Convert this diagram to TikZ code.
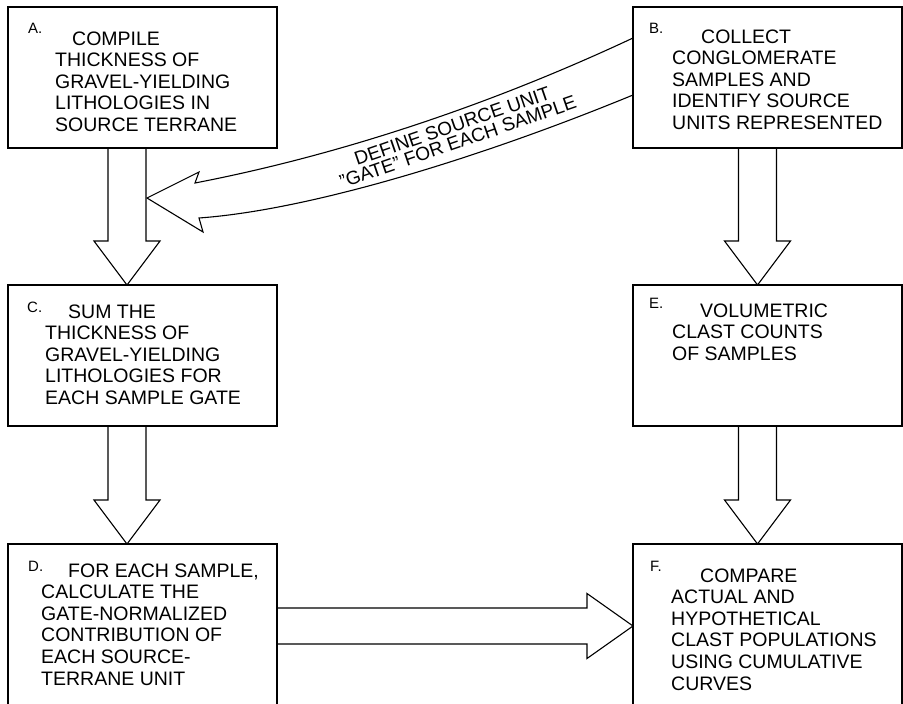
\documentclass[tikz,border=0pt]{standalone}
\usepackage{fontspec}
\setmainfont{Liberation Sans}
\usetikzlibrary{calc}

\tikzset{
  box/.style={draw,line width=1.1pt,minimum width=269pt,inner sep=0pt,outer sep=0pt},
  % base of a multi-line text is its last line
  txt/.style={anchor=base west,align=left,inner sep=0pt,font=\fontsize{19.5}{21.6}\selectfont},
  lbl/.style={anchor=base west,inner sep=0pt,font=\fontsize{15}{18}\selectfont},
  blk/.style={draw,line width=1.1pt,line join=miter},
  bandtxt/.style={align=center,rotate=19,inner sep=0pt,font=\fontsize{19}{17}\selectfont}
}

% hollow block arrow from #1 down to #2, #3 in from the left side of #1
\newcommand{\vblk}[3]{%
  \path ([xshift=#3]#1.south west) coordinate (t) (t |- #2.north) coordinate (h);
  \draw[blk] ([xshift=-19pt]t) -- ([shift={(-19pt,44pt)}]h) -- ([shift={(-33pt,44pt)}]h) -- (h)
    -- ([shift={(33pt,44pt)}]h) -- ([shift={(19pt,44pt)}]h) -- ([xshift=19pt]t);
}

\begin{document}
\begin{tikzpicture}[x=1pt,y=1pt]
\clip (0,0) rectangle (903,-704);

% boxes
\node[box,minimum height=141pt] (bA) at (142.5,-77.5) {};
\node[box,minimum height=141pt] (bB) at (767.5,-77.5) {};
\node[box,minimum height=141pt] (bC) at (142.5,-355.5) {};
\node[box,minimum height=141pt] (bE) at (767.5,-355.5) {};
\node[box,minimum height=164pt] (bD) at (142.5,-626) {};
\node[box,minimum height=164pt] (bF) at (767.5,-626) {};

% box texts
\node[lbl] (lA) at ([shift={(20pt,-26pt)}]bA.north west) {A.};
\node[txt] (tA) at ([shift={(47pt,-124.4pt)}]bA.north west) {\hspace*{17pt}COMPILE\\THICKNESS OF\\GRAVEL-YIELDING\\LITHOLOGIES IN\\SOURCE TERRANE};

\node[lbl] (lB) at ([shift={(16pt,-26pt)}]bB.north west) {B.};
\node[txt] (tB) at ([shift={(39pt,-122.4pt)}]bB.north west) {\hspace*{29pt}COLLECT\\CONGLOMERATE\\SAMPLES AND\\IDENTIFY SOURCE\\UNITS REPRESENTED};

\node[lbl] (lC) at ([shift={(19pt,-27pt)}]bC.north west) {C.};
\node[txt] (tC) at ([shift={(37pt,-119.4pt)}]bC.north west) {\hspace*{23pt}SUM THE\\THICKNESS OF\\GRAVEL-YIELDING\\LITHOLOGIES FOR\\EACH SAMPLE GATE};

\node[lbl] (lE) at ([shift={(16pt,-23pt)}]bE.north west) {E.};
\node[txt] (tE) at ([shift={(39pt,-75.2pt)}]bE.north west) {\hspace*{28pt}VOLUMETRIC\\CLAST COUNTS\\OF SAMPLES};

\node[lbl] (lD) at ([shift={(20pt,-27pt)}]bD.north west) {D.};
\node[txt] (tD) at ([shift={(33pt,-141pt)}]bD.north west) {\hspace*{27pt}FOR EACH SAMPLE,\\CALCULATE THE\\GATE-NORMALIZED\\CONTRIBUTION OF\\EACH SOURCE-\\TERRANE UNIT};

\node[lbl] (lF) at ([shift={(17pt,-27pt)}]bF.north west) {F.};
\node[txt] (tF) at ([shift={(38pt,-146pt)}]bF.north west) {\hspace*{29pt}COMPARE\\ACTUAL AND\\HYPOTHETICAL\\CLAST POPULATIONS\\USING CUMULATIVE\\CURVES};

% down arrows
\vblk{bA}{bC}{119pt}
\vblk{bC}{bD}{119pt}
\vblk{bB}{bE}{124.5pt}
\vblk{bE}{bF}{124.5pt}

% D to F
\draw[blk] ([yshift=18pt]bD.east) -- ([shift={(-46pt,18pt)}]bF.west) -- ([shift={(-46pt,32.5pt)}]bF.west) -- (bF.west)
  -- ([shift={(-46pt,-32.5pt)}]bF.west) -- ([shift={(-46pt,-18pt)}]bF.west) -- ([yshift=-18pt]bD.east);

% curved band from B into the A-C arrow
\coordinate (tip) at (147,-198);
\draw[blk] ([yshift=-31pt]bB.north west) .. controls (490,-105) and (340,-155) .. ([shift={(48pt,15pt)}]tip)
  -- ([shift={(52pt,26pt)}]tip) -- (tip) -- ([shift={(56pt,-34pt)}]tip) -- ([shift={(52pt,-20pt)}]tip)
  .. controls (310,-210) and (480,-158) .. ([yshift=-88pt]bB.north west);
\node[bandtxt] (band) at (455,-134) {DEFINE SOURCE UNIT\\"GATE" FOR EACH SAMPLE};
\end{tikzpicture}
\end{document}
